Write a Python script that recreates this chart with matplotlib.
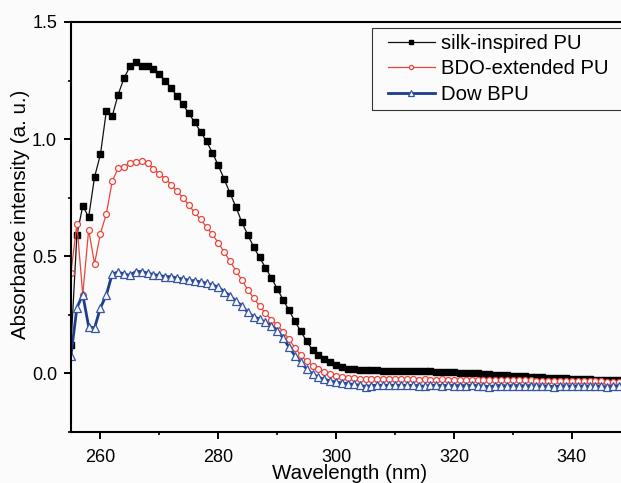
import matplotlib
matplotlib.use("Agg")
import matplotlib.pyplot as plt
import matplotlib.patches as patches
import numpy as np

plt.rcParams['font.family'] = ['Liberation Sans', 'DejaVu Sans']

# wavelength grid (nm), 1 nm steps
wavelength = np.arange(255, 351)

silk_pu = [
    0.12, 0.59, 0.715, 0.667, 0.838, 0.935, 1.12, 1.098, 1.19, 1.26,
    1.31, 1.33, 1.313, 1.31, 1.298, 1.277, 1.25, 1.218, 1.184, 1.148,
    1.11, 1.071, 1.032, 0.99, 0.942, 0.888, 0.829, 0.769, 0.71, 0.645,
    0.592, 0.54, 0.495, 0.452, 0.408, 0.362, 0.314, 0.27, 0.222, 0.18,
    0.137, 0.10, 0.08, 0.063, 0.05, 0.037, 0.029, 0.021, 0.017, 0.015,
    0.014, 0.013, 0.013, 0.012, 0.012, 0.012, 0.011, 0.011, 0.011, 0.010,
    0.010, 0.009, 0.008, 0.007, 0.005, 0.004, 0.003, 0.002, 0.001, 0.000,
    -0.002, -0.003, -0.005, -0.006, -0.008, -0.010, -0.011, -0.012, -0.014, -0.015,
    -0.016, -0.018, -0.019, -0.020, -0.021, -0.022, -0.023, -0.024, -0.025, -0.026,
    -0.027, -0.028, -0.029, -0.030, -0.031, -0.032,
]

bdo_pu = [
    0.43, 0.638, 0.336, 0.613, 0.468, 0.597, 0.681, 0.82, 0.876, 0.88,
    0.90, 0.902, 0.905, 0.898, 0.873, 0.852, 0.831, 0.806, 0.777, 0.75,
    0.718, 0.687, 0.657, 0.625, 0.593, 0.558, 0.518, 0.478, 0.438, 0.398,
    0.358, 0.322, 0.288, 0.256, 0.23, 0.206, 0.178, 0.145, 0.11, 0.077,
    0.052, 0.033, 0.019, 0.007, -0.003, -0.009, -0.014, -0.018, -0.021, -0.023,
    -0.024, -0.024, -0.025, -0.024, -0.025, -0.025, -0.024, -0.025, -0.025, -0.026,
    -0.025, -0.026, -0.026, -0.025, -0.026, -0.027, -0.026, -0.027, -0.027, -0.028,
    -0.028, -0.027, -0.028, -0.029, -0.029, -0.030, -0.029, -0.030, -0.030, -0.031,
    -0.031, -0.031, -0.032, -0.032, -0.032, -0.033, -0.033, -0.033, -0.034, -0.034,
    -0.034, -0.035, -0.035, -0.035, -0.036, -0.036,
]

dow_bpu = [
    0.076, 0.28, 0.336, 0.20, 0.194, 0.28, 0.335, 0.425, 0.432, 0.425,
    0.418, 0.435, 0.435, 0.428, 0.422, 0.418, 0.413, 0.413, 0.407, 0.403,
    0.398, 0.395, 0.391, 0.385, 0.378, 0.368, 0.349, 0.332, 0.308, 0.289,
    0.261, 0.242, 0.232, 0.218, 0.204, 0.182, 0.152, 0.112, 0.076, 0.047,
    0.019, -0.003, -0.017, -0.025, -0.032, -0.037, -0.041, -0.044, -0.047, -0.050,
    -0.056, -0.052, -0.050, -0.051, -0.050, -0.051, -0.050, -0.051, -0.051, -0.052,
    -0.055, -0.051, -0.051, -0.052, -0.051, -0.052, -0.052, -0.052, -0.051, -0.052,
    -0.053, -0.057, -0.052, -0.052, -0.053, -0.052, -0.052, -0.053, -0.052, -0.053,
    -0.053, -0.054, -0.057, -0.053, -0.053, -0.054, -0.053, -0.054, -0.054, -0.054,
    -0.055, -0.058, -0.054, -0.055, -0.055, -0.055,
]

labels = ["silk-inspired PU", "BDO-extended PU", "Dow BPU"]

bg = '#fbfbfc'
fig = plt.figure(figsize=(6.21, 4.83), dpi=100, facecolor=bg)
# axes runs a little past the right edge, as in the cropped original
ax = fig.add_axes([0.1143, 0.1056, 0.9014, 0.8489])
ax.set_facecolor(bg)

ax.plot(wavelength, silk_pu, color='#111111', lw=0.9, marker='s', ms=3.8,
        mfc='black', mec='black', label=labels[0])
ax.plot(wavelength, bdo_pu, color='#e8453c', lw=0.9, marker='o', ms=4.3,
        mfc=bg, mec='#e8453c', mew=0.9, label=labels[1])
ax.plot(wavelength, dow_bpu, color='#1c3c8c', lw=2.0, marker='^', ms=5.4,
        mfc=bg, mec='#3454a4', mew=0.9, label=labels[2])

ax.set_xlim(255, 350)
ax.set_ylim(-0.25, 1.5)
ax.set_xticks([260, 280, 300, 320, 340])
ax.set_xticks([270, 290, 310, 330], minor=True)
ax.set_yticks([0.0, 0.5, 1.0, 1.5])
ax.set_yticks([-0.25, 0.25, 0.75, 1.25], minor=True)
ax.yaxis.set_major_formatter(matplotlib.ticker.FormatStrFormatter('%.1f'))
ax.tick_params(which='major', direction='out', length=5, width=1.4,
               labelsize=13, pad=5)
ax.tick_params(which='minor', direction='out', length=2.5, width=1.2)
ax.tick_params(axis='x', which='major', pad=7)
for sp in ax.spines.values():
    sp.set_linewidth(1.5)

fig.text(350 / 621, 1 - 479 / 483, "Wavelength (nm)", fontsize=14.8,
         ha='center', va='baseline')
fig.text(21 / 621, 1 - 214 / 483, "Absorbance intensity (a. u.)",
         fontsize=14.8, rotation=90, ha='center', va='center')

# legend without frame, frame drawn by hand so it runs off the right edge
leg = ax.legend(loc='upper left', bbox_to_anchor=(388 / 621, 1 - 34 / 483),
                bbox_transform=fig.transFigure, frameon=False, fontsize=14.6,
                handlelength=2.3, handletextpad=0.3, labelspacing=0.32,
                markerscale=0.7, borderpad=0, borderaxespad=0)
fig.patches.append(patches.Rectangle((372 / 621, 1 - 110 / 483),
                                     0.5, (110 - 28) / 483,
                                     transform=fig.transFigure, fill=False,
                                     edgecolor='#333333', lw=0.8))

fig.savefig("out.png", dpi=100, facecolor=fig.get_facecolor())
